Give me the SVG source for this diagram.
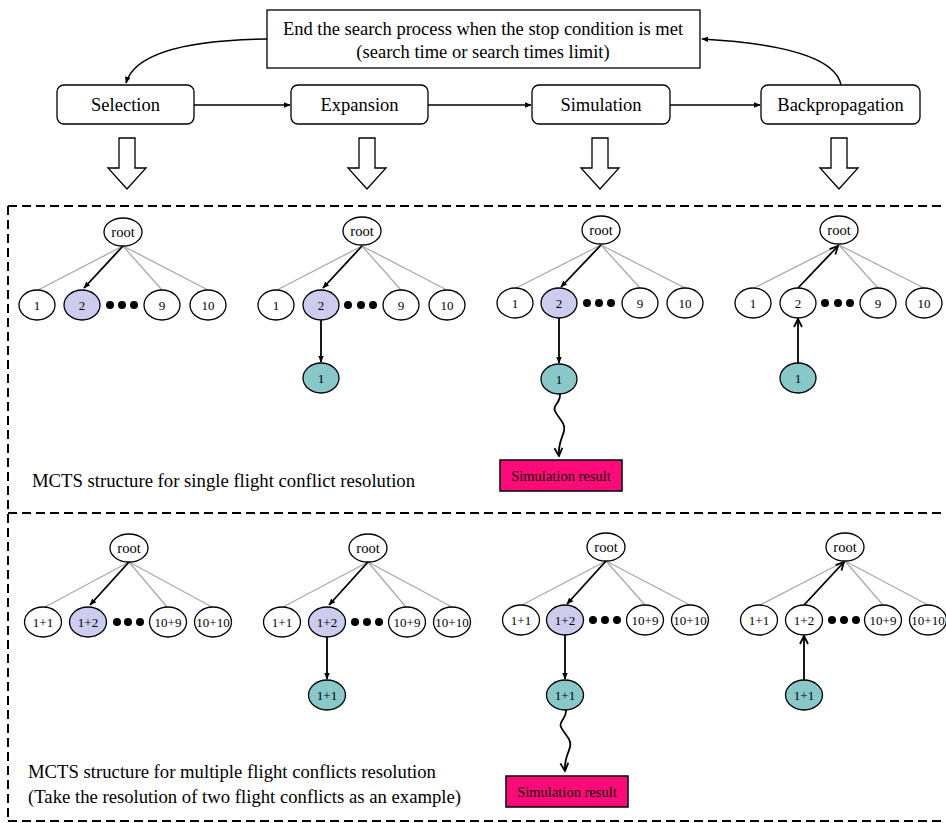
<svg xmlns="http://www.w3.org/2000/svg" width="946" height="823" viewBox="0 0 946 823">
<defs>
<style>
text{font-family:"Liberation Serif","Times New Roman",serif;fill:#000}
.box{fill:#fff;stroke:#000;stroke-width:1.3}
.big{font-size:18.5px}
.top{font-size:18.5px}
.cap{font-size:18.7px}
.nd{fill:#fff;stroke:#000;stroke-width:1.3}
.sel{fill:#ccccee;stroke:#000;stroke-width:1.3}
.tl{fill:#88c8c8;stroke:#000;stroke-width:1.3}
.lb{font-size:13px;text-anchor:middle}
.rt{font-size:14.5px;text-anchor:middle}
.gl{stroke:#aaa;stroke-width:1.3;fill:none}
.bk{stroke:#000;stroke-width:1.8;fill:none}
.fl{stroke:#000;stroke-width:1.5;fill:none}
.dot{fill:#000}
.hol{fill:#fff;stroke:#000;stroke-width:1.3}
.dash{stroke:#000;stroke-width:2;stroke-dasharray:9 5;fill:none}
.res{fill:#ff0a78;stroke:#000;stroke-width:1.5}
.rs{font-size:14.5px;text-anchor:middle}
</style>
<marker id="fa" viewBox="0 0 10 10" refX="9" refY="5" markerWidth="7" markerHeight="7" orient="auto" markerUnits="userSpaceOnUse"><path d="M0 1 L10 5 L0 9 Z" fill="#000"/></marker>
<marker id="oa" viewBox="0 0 10 10" refX="9" refY="5" markerWidth="10" markerHeight="10" orient="auto" markerUnits="userSpaceOnUse"><path d="M1 1 L9 5 L1 9" fill="none" stroke="#000" stroke-width="1.8"/></marker>
</defs>
<rect width="946" height="823" fill="#fff"/>

<g id="stop">
<rect class="box" x="267" y="10" width="433" height="58"/>
<text class="top" x="483" y="35" text-anchor="middle">End the search process when the stop condition is met</text>
<text class="top" x="483" y="58" text-anchor="middle">(search time or search times limit)</text>
</g>
<g id="selection"><rect class="box" x="57" y="85" width="137" height="39" rx="7"/><text class="big" x="125.5" y="111" text-anchor="middle">Selection</text></g>
<g id="expansion"><rect class="box" x="291" y="85" width="137" height="39" rx="7"/><text class="big" x="359.5" y="111" text-anchor="middle">Expansion</text></g>
<g id="simulation"><rect class="box" x="532" y="85" width="138" height="39" rx="7"/><text class="big" x="601" y="111" text-anchor="middle">Simulation</text></g>
<g id="backprop"><rect class="box" x="761" y="85" width="159" height="39" rx="7"/><text class="big" x="840.5" y="111" text-anchor="middle">Backpropagation</text></g>

<g id="connectors">
<path class="fl" d="M267 39 C190 40 135 52 126 83" marker-end="url(#fa)"/>
<path class="fl" d="M841 85 C836 60 790 44 702 39" marker-end="url(#fa)"/>
<line class="fl" x1="194" y1="105" x2="290" y2="105" marker-end="url(#fa)"/>
<line class="fl" x1="428" y1="105" x2="531" y2="105" marker-end="url(#fa)"/>
<line class="fl" x1="670" y1="105" x2="760" y2="105" marker-end="url(#fa)"/>
</g>

<g id="down-arrows">
<path class="hol" d="M119 138 H135 V168 H146 L127 189 L108 168 H119 Z"/>
<path class="hol" d="M359 138 H375 V168 H386 L367 189 L348 168 H359 Z"/>
<path class="hol" d="M592 138 H608 V168 H619 L600 189 L581 168 H592 Z"/>
<path class="hol" d="M831 138 H847 V168 H858 L839 189 L820 168 H831 Z"/>
</g>

<g id="frame">
<path class="dash" d="M8 206 H946"/>
<path class="dash" d="M8 206 V821"/>
<path class="dash" d="M8 513 H946"/>
<path class="dash" d="M8 821 H946"/>
</g>

<!-- Top section trees -->
<g id="t1">
<line class="gl" x1="123" y1="246" x2="38" y2="290"/>
<line class="gl" x1="123" y1="246" x2="162" y2="290"/>
<line class="gl" x1="123" y1="246" x2="208" y2="290"/>
<line class="bk" x1="123" y1="246" x2="84" y2="288" marker-end="url(#fa)"/>
<ellipse class="nd" cx="123" cy="232" rx="19" ry="14"/><text class="rt" x="123" y="237">root</text>
<ellipse class="nd" cx="37" cy="305" rx="18" ry="15"/><text class="lb" x="37" y="310">1</text>
<ellipse class="sel" cx="82" cy="305" rx="18" ry="15"/><text class="lb" x="82" y="310">2</text>
<circle class="dot" cx="110" cy="305" r="4"/><circle class="dot" cx="122" cy="305" r="4"/><circle class="dot" cx="134" cy="305" r="4"/>
<ellipse class="nd" cx="162" cy="305" rx="18" ry="15"/><text class="lb" x="162" y="310">9</text>
<ellipse class="nd" cx="208" cy="305" rx="18" ry="15"/><text class="lb" x="208" y="310">10</text>
</g>
<g id="t2">
<line class="gl" x1="362" y1="246" x2="277" y2="290"/>
<line class="gl" x1="362" y1="246" x2="401" y2="290"/>
<line class="gl" x1="362" y1="246" x2="447" y2="290"/>
<line class="bk" x1="362" y1="246" x2="323" y2="288" marker-end="url(#fa)"/>
<line class="bk" x1="321" y1="320" x2="321" y2="362" marker-end="url(#fa)"/>
<ellipse class="nd" cx="362" cy="231" rx="19" ry="14"/><text class="rt" x="362" y="236">root</text>
<ellipse class="nd" cx="276" cy="305" rx="18" ry="15"/><text class="lb" x="276" y="310">1</text>
<ellipse class="sel" cx="321" cy="305" rx="18" ry="15"/><text class="lb" x="321" y="310">2</text>
<circle class="dot" cx="348" cy="305" r="4"/><circle class="dot" cx="361" cy="305" r="4"/><circle class="dot" cx="373" cy="305" r="4"/>
<ellipse class="nd" cx="401" cy="305" rx="18" ry="15"/><text class="lb" x="401" y="310">9</text>
<ellipse class="nd" cx="447" cy="305" rx="18" ry="15"/><text class="lb" x="447" y="310">10</text>
<ellipse class="tl" cx="321" cy="378" rx="18" ry="15"/><text class="lb" x="321" y="383">1</text>
</g>
<g id="t3">
<line class="gl" x1="601" y1="245" x2="516" y2="288"/>
<line class="gl" x1="601" y1="245" x2="640" y2="288"/>
<line class="gl" x1="601" y1="245" x2="685" y2="288"/>
<line class="bk" x1="601" y1="245" x2="561" y2="287" marker-end="url(#fa)"/>
<line class="bk" x1="559" y1="318" x2="559" y2="363" marker-end="url(#fa)"/>
<path class="bk" d="M560 394 C561 403 552 405 555 411 C558 418 566 423 564 431 C562 439 558 443 559 456" marker-end="url(#oa)"/>
<ellipse class="nd" cx="601" cy="230" rx="19" ry="14"/><text class="rt" x="601" y="235">root</text>
<ellipse class="nd" cx="515" cy="303" rx="18" ry="15"/><text class="lb" x="515" y="308">1</text>
<ellipse class="sel" cx="559" cy="303" rx="18" ry="15"/><text class="lb" x="559" y="308">2</text>
<circle class="dot" cx="587" cy="303" r="4"/><circle class="dot" cx="599" cy="303" r="4"/><circle class="dot" cx="611" cy="303" r="4"/>
<ellipse class="nd" cx="640" cy="303" rx="18" ry="15"/><text class="lb" x="640" y="308">9</text>
<ellipse class="nd" cx="685" cy="303" rx="18" ry="15"/><text class="lb" x="685" y="308">10</text>
<ellipse class="tl" cx="559" cy="379" rx="18" ry="15"/><text class="lb" x="559" y="384">1</text>
<rect class="res" x="500" y="460" width="122" height="31"/><text class="rs" x="561" y="481">Simulation result</text>
</g>
<g id="t4">
<line class="gl" x1="839" y1="245" x2="754" y2="288"/>
<line class="gl" x1="839" y1="245" x2="878" y2="288"/>
<line class="gl" x1="839" y1="245" x2="924" y2="288"/>
<line class="bk" x1="798" y1="288" x2="838" y2="246" marker-end="url(#oa)"/>
<line class="bk" x1="798" y1="363" x2="798" y2="319" marker-end="url(#oa)"/>
<ellipse class="nd" cx="839" cy="230" rx="19" ry="14"/><text class="rt" x="839" y="235">root</text>
<ellipse class="nd" cx="753" cy="303" rx="18" ry="15"/><text class="lb" x="753" y="308">1</text>
<ellipse class="nd" cx="798" cy="303" rx="18" ry="15"/><text class="lb" x="798" y="308">2</text>
<circle class="dot" cx="825" cy="303" r="4"/><circle class="dot" cx="838" cy="303" r="4"/><circle class="dot" cx="850" cy="303" r="4"/>
<ellipse class="nd" cx="878" cy="303" rx="18" ry="15"/><text class="lb" x="878" y="308">9</text>
<ellipse class="nd" cx="924" cy="303" rx="18" ry="15"/><text class="lb" x="924" y="308">10</text>
<ellipse class="tl" cx="798" cy="378" rx="18" ry="15"/><text class="lb" x="798" y="383">1</text>
</g>
<text class="cap" x="32" y="487">MCTS structure for single flight conflict resolution</text>

<!-- Bottom section trees -->
<g id="b1">
<line class="gl" x1="129" y1="562" x2="45" y2="607"/>
<line class="gl" x1="129" y1="562" x2="167" y2="607"/>
<line class="gl" x1="129" y1="562" x2="212" y2="607"/>
<line class="bk" x1="129" y1="562" x2="90" y2="605" marker-end="url(#fa)"/>
<ellipse class="nd" cx="129" cy="548" rx="19" ry="14"/><text class="rt" x="129" y="553">root</text>
<ellipse class="nd" cx="43" cy="622" rx="18.5" ry="15"/><text class="lb" x="43" y="627">1+1</text>
<ellipse class="sel" cx="88" cy="622" rx="18.5" ry="15"/><text class="lb" x="88" y="627">1+2</text>
<circle class="dot" cx="117" cy="622" r="4"/><circle class="dot" cx="128" cy="622" r="4"/><circle class="dot" cx="140" cy="622" r="4"/>
<ellipse class="nd" cx="168" cy="622" rx="18.5" ry="15"/><text class="lb" x="168" y="627">10+9</text>
<ellipse class="nd" cx="213" cy="622" rx="18.5" ry="15"/><text class="lb" x="213" y="627">10+10</text>
</g>
<g id="b2">
<line class="gl" x1="368" y1="562" x2="283" y2="607"/>
<line class="gl" x1="368" y1="562" x2="406" y2="607"/>
<line class="gl" x1="368" y1="562" x2="452" y2="607"/>
<line class="bk" x1="368" y1="562" x2="329" y2="605" marker-end="url(#fa)"/>
<line class="bk" x1="327" y1="637" x2="327" y2="679" marker-end="url(#fa)"/>
<ellipse class="nd" cx="368" cy="548" rx="19" ry="14"/><text class="rt" x="368" y="553">root</text>
<ellipse class="nd" cx="282" cy="622" rx="18.5" ry="15"/><text class="lb" x="282" y="627">1+1</text>
<ellipse class="sel" cx="327" cy="622" rx="18.5" ry="15"/><text class="lb" x="327" y="627">1+2</text>
<circle class="dot" cx="355" cy="622" r="4"/><circle class="dot" cx="367" cy="622" r="4"/><circle class="dot" cx="379" cy="622" r="4"/>
<ellipse class="nd" cx="407" cy="622" rx="18.5" ry="15"/><text class="lb" x="407" y="627">10+9</text>
<ellipse class="nd" cx="452" cy="622" rx="18.5" ry="15"/><text class="lb" x="452" y="627">10+10</text>
<ellipse class="tl" cx="327" cy="695" rx="18.5" ry="15"/><text class="lb" x="327" y="700">1+1</text>
</g>
<g id="b3">
<line class="gl" x1="606" y1="561" x2="522" y2="605"/>
<line class="gl" x1="606" y1="561" x2="645" y2="605"/>
<line class="gl" x1="606" y1="561" x2="690" y2="605"/>
<line class="bk" x1="606" y1="561" x2="567" y2="604" marker-end="url(#fa)"/>
<line class="bk" x1="565" y1="635" x2="565" y2="679" marker-end="url(#fa)"/>
<path class="bk" d="M566 710 C567 719 558 721 561 727 C564 734 572 739 570 747 C568 755 564 759 565 771" marker-end="url(#oa)"/>
<ellipse class="nd" cx="606" cy="547" rx="19" ry="14"/><text class="rt" x="606" y="552">root</text>
<ellipse class="nd" cx="521" cy="620" rx="18.5" ry="15"/><text class="lb" x="521" y="625">1+1</text>
<ellipse class="sel" cx="565" cy="620" rx="18.5" ry="15"/><text class="lb" x="565" y="625">1+2</text>
<circle class="dot" cx="593" cy="620" r="4"/><circle class="dot" cx="605" cy="620" r="4"/><circle class="dot" cx="617" cy="620" r="4"/>
<ellipse class="nd" cx="645" cy="620" rx="18.5" ry="15"/><text class="lb" x="645" y="625">10+9</text>
<ellipse class="nd" cx="690" cy="620" rx="18.5" ry="15"/><text class="lb" x="690" y="625">10+10</text>
<ellipse class="tl" cx="565" cy="695" rx="18.5" ry="15"/><text class="lb" x="565" y="700">1+1</text>
<rect class="res" x="506" y="776" width="122" height="31"/><text class="rs" x="567" y="797">Simulation result</text>
</g>
<g id="b4">
<line class="gl" x1="845" y1="561" x2="760" y2="605"/>
<line class="gl" x1="845" y1="561" x2="883" y2="605"/>
<line class="gl" x1="845" y1="561" x2="928" y2="605"/>
<line class="bk" x1="804" y1="605" x2="844" y2="562" marker-end="url(#oa)"/>
<line class="bk" x1="804" y1="680" x2="804" y2="636" marker-end="url(#oa)"/>
<ellipse class="nd" cx="845" cy="547" rx="19" ry="14"/><text class="rt" x="845" y="552">root</text>
<ellipse class="nd" cx="759" cy="620" rx="18.5" ry="15"/><text class="lb" x="759" y="625">1+1</text>
<ellipse class="nd" cx="804" cy="620" rx="18.5" ry="15"/><text class="lb" x="804" y="625">1+2</text>
<circle class="dot" cx="832" cy="620" r="4"/><circle class="dot" cx="844" cy="620" r="4"/><circle class="dot" cx="856" cy="620" r="4"/>
<ellipse class="nd" cx="883" cy="620" rx="18.5" ry="15"/><text class="lb" x="883" y="625">10+9</text>
<ellipse class="nd" cx="928" cy="620" rx="18.5" ry="15"/><text class="lb" x="928" y="625">10+10</text>
<ellipse class="tl" cx="804" cy="695" rx="18.5" ry="15"/><text class="lb" x="804" y="700">1+1</text>
</g>
<text class="cap" x="28" y="778">MCTS structure for multiple flight conflicts resolution</text>
<text class="cap" x="28" y="803">(Take the resolution of two flight conflicts as an example)</text>
</svg>
